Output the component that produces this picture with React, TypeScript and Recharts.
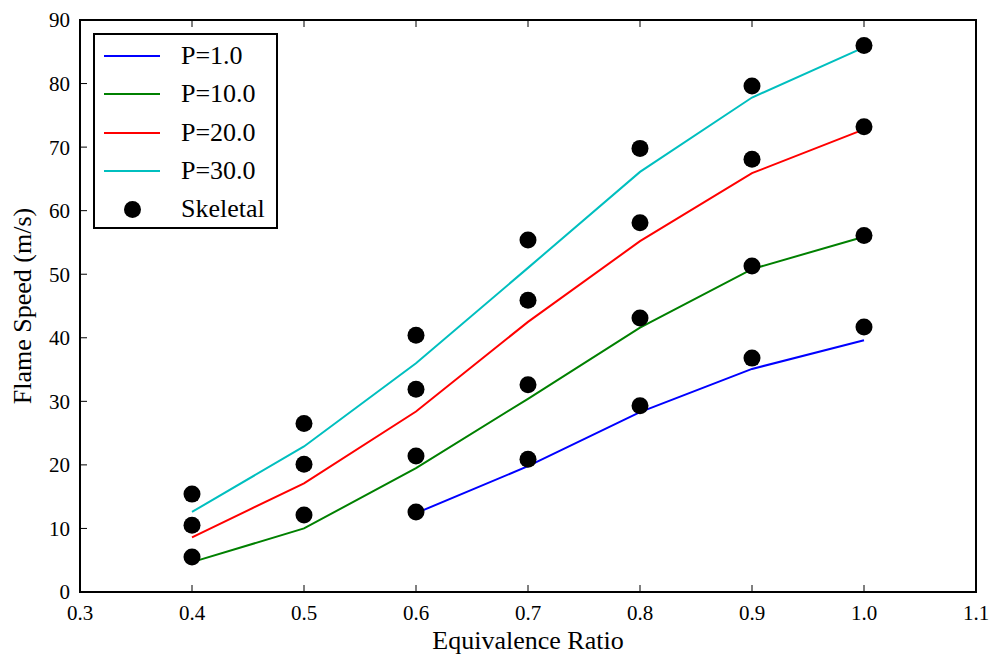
import { ComposedChart, Line, Scatter, XAxis, YAxis, ReferenceArea } from 'recharts';

const PHI = [0.4, 0.5, 0.6, 0.7, 0.8, 0.9, 1.0];
const P1 = [null, null, 12.4, 19.8, 28.3, 35.1, 39.6];
const P10 = [4.7, 10.0, 19.5, 30.4, 41.6, 50.8, 55.9];
const P20 = [8.6, 17.1, 28.4, 42.5, 55.2, 65.9, 72.8];
const P30 = [12.6, 22.9, 36.0, 51.0, 66.1, 77.8, 85.7];

const SKEL_X = [0.4, 0.4, 0.4, 0.5, 0.5, 0.5, 0.6, 0.6, 0.6, 0.6, 0.7, 0.7, 0.7, 0.7, 0.8, 0.8, 0.8, 0.8, 0.9, 0.9, 0.9, 0.9, 1.0, 1.0, 1.0, 1.0];
const SKEL_Y = [15.4, 10.5, 5.5, 26.5, 20.1, 12.1, 40.4, 31.9, 21.4, 12.6, 55.4, 45.9, 32.6, 20.9, 69.8, 58.1, 43.1, 29.3, 79.6, 68.1, 51.3, 36.8, 86.0, 73.2, 56.1, 41.7];

const X_TICKS = [0.3, 0.4, 0.5, 0.6, 0.7, 0.8, 0.9, 1.0, 1.1];
const Y_TICKS = [0, 10, 20, 30, 40, 50, 60, 70, 80, 90];

const SERIES = [
  { name: 'P=1.0', values: P1, color: '#0000ff' },
  { name: 'P=10.0', values: P10, color: '#008000' },
  { name: 'P=20.0', values: P20, color: '#ff0000' },
  { name: 'P=30.0', values: P30, color: '#00bfbf' },
];

const FONT = '"Liberation Serif", "DejaVu Serif", serif';

function toRows(vals: (number | null)[]) {
  return PHI.map((x, i) => ({ x, y: vals[i] })).filter((r) => r.y !== null);
}

const skeletal = SKEL_X.map((x, i) => ({ x, y: SKEL_Y[i] }));

function LegendBox() {
  const row = { display: 'flex', alignItems: 'center', height: 38.3 } as const;
  return (
    <div style={{ position: 'absolute', left: 93, top: 33, width: 181, height: 190, boxSizing: 'content-box',
                  border: '2px solid #000', background: '#fff', paddingTop: 2, fontFamily: FONT, fontSize: 26 }}>
      {SERIES.map((s) => (
        <div key={s.name} style={row}>
          <div style={{ width: 56, height: 2, background: s.color, marginLeft: 9, marginRight: 21 }} />
          <span>{s.name}</span>
        </div>
      ))}
      <div style={row}>
        <div style={{ width: 56, marginLeft: 9, marginRight: 21, display: 'flex', justifyContent: 'center' }}>
          <div style={{ width: 17, height: 17, borderRadius: '50%', background: '#000' }} />
        </div>
        <span>Skeletal</span>
      </div>
    </div>
  );
}

export default function App() {
  const tickStyle = { fontSize: 21, fill: '#000', fontFamily: FONT };
  return (
    <div style={{ position: 'absolute', left: 0, top: 0, width: 990, height: 654, background: '#fff' }}>
      <ComposedChart width={990} height={654} margin={{ top: 19, right: 13, bottom: 22, left: 30 }}>
        <XAxis xAxisId="b" type="number" dataKey="x" domain={[0.3, 1.1]} ticks={X_TICKS} allowDataOverflow
               tickFormatter={(v) => v.toFixed(1)} tick={tickStyle} tickSize={-7} tickMargin={20}
               stroke="#000" axisLine={{ strokeWidth: 2 }} height={40}
               label={(p: any) => (
                 <text x={p.viewBox.x + p.viewBox.width / 2} y={649} textAnchor="middle"
                       style={{ fontSize: 26, fontFamily: FONT, fill: '#000' }}>Equivalence Ratio</text>
               )} />
        <XAxis xAxisId="t" orientation="top" type="number" dataKey="x" domain={[0.3, 1.1]} ticks={X_TICKS} allowDataOverflow
               tickFormatter={() => ''} tickSize={-7} stroke="#000" axisLine={{ strokeWidth: 2 }} height={1} />
        <YAxis yAxisId="l" type="number" domain={[0, 90]} ticks={Y_TICKS} tick={tickStyle} tickSize={-7} tickMargin={17}
               stroke="#000" axisLine={{ strokeWidth: 2 }} width={50}
               label={(p: any) => {
                 const x = p.viewBox.x + 1;
                 const y = p.viewBox.y + p.viewBox.height / 2;
                 return (
                   <text x={x} y={y} textAnchor="middle" transform={`rotate(-90, ${x}, ${y})`}
                         style={{ fontSize: 26, fontFamily: FONT, fill: '#000' }}>Flame Speed (m/s)</text>
                 );
               }} />
        <YAxis yAxisId="r" orientation="right" type="number" domain={[0, 90]} ticks={Y_TICKS}
               tickFormatter={() => ''} tickSize={-7} stroke="#000" axisLine={{ strokeWidth: 2 }} width={1} />
        <ReferenceArea xAxisId="b" yAxisId="l" x1={0.3} x2={1.1} y1={0} y2={90} fill="none" stroke="#000" strokeWidth={2} fillOpacity={0} />
        {SERIES.map((s) => (
          <Line key={s.name} xAxisId="b" yAxisId="l" data={toRows(s.values)} dataKey="y" name={s.name}
                type="linear" stroke={s.color} strokeWidth={2} dot={false} isAnimationActive={false} />
        ))}
        <Scatter xAxisId="b" yAxisId="l" data={skeletal} dataKey="y" name="Skeletal" fill="#000"
                 shape={(p: any) => <circle cx={p.cx} cy={p.cy} r={8.5} fill="#000" />} isAnimationActive={false} />
      </ComposedChart>
      <LegendBox />
    </div>
  );
}
